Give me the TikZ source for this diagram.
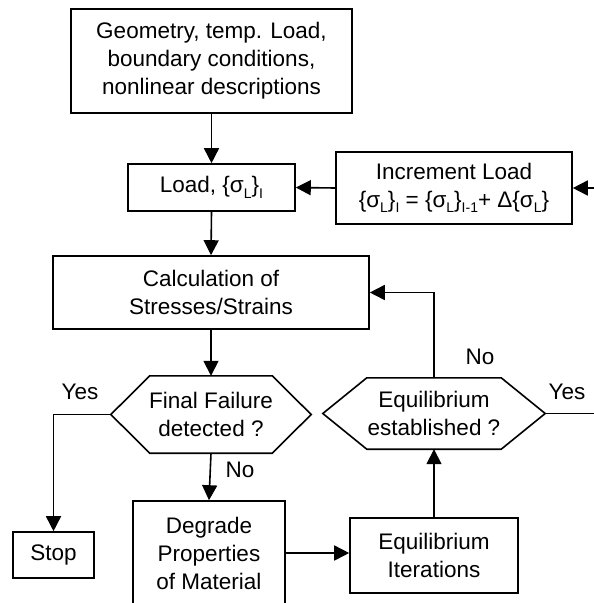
\documentclass[tikz,border=0pt]{standalone}
\usepackage{fontspec}
\setmainfont{Liberation Sans}
\usetikzlibrary{arrows.meta,calc}
\newcommand{\lsub}[1]{\raisebox{-0.45ex}{\fontsize{14}{14}\selectfont #1}}
\newcommand{\hexdraw}[2]{\draw[line width=1.6pt] (#1.west)--([xshift=#2]#1.north west)--([xshift=-#2]#1.north east)--(#1.east)--([xshift=-#2]#1.south east)--([xshift=#2]#1.south west)--cycle;}
\begin{document}
\begin{tikzpicture}[x=1pt,y=-1pt,
  every node/.style={font=\fontsize{22.5}{28}\selectfont,align=center,inner sep=0pt},
  box/.style={draw,line width=1.6pt},
  hexa/.style={},
  arr/.style={line width=1.6pt,-{Triangle[length=15pt,width=15pt]}},
  lin/.style={line width=1.6pt}]
%frame
\useasboundingbox (0,0) rectangle (594,603);
\clip (0,0) rectangle (594,603);
%boxes
\node[box,minimum width=281pt,minimum height=104pt] (geom) at (211.5,61) {Geometry, temp. Load,\\boundary conditions,\\nonlinear descriptions};
\node[box,minimum width=167pt,minimum height=47pt] (load) at (211.5,187.5) {Load, \{σ\lsub{L}\}\lsub{I}};
\node[box,minimum width=236pt,minimum height=72pt] (incr) at (454,188) {Increment Load\\\{σ\lsub{L}\}\lsub{I} = \{σ\lsub{L}\}\lsub{I-1}+ Δ\{σ\lsub{L}\}};
\node[box,minimum width=316pt,minimum height=73pt] (calc) at (211,292.5) {Calculation of\\Stresses/Strains};
\node[hexa,minimum width=200pt,minimum height=77pt] (fail) at (211,414.5) {Final Failure\\detected ?};
\node[hexa,minimum width=222pt,minimum height=71pt] (equil) at (434,413.5) {Equilibrium\\established ?};
\node[box,minimum width=81pt,minimum height=46pt] (stop) at (53.5,555) {Stop};
\node[box,minimum width=152pt,minimum height=104pt] (degr) at (209,553) {Degrade\\Properties\\of Material};
\node[box,minimum width=168pt,minimum height=75pt] (iter) at (434,555.5) {Equilibrium\\Iterations};
%hexagons
\hexdraw{fail}{39pt}
\hexdraw{equil}{44pt}
%free ends
\coordinate (rin) at (594,188);
\coordinate (rout) at (594,413.5);
%connectors
\draw[arr] (geom.south)--(load.north);
\draw[arr] (rin)--(incr.east);
\draw[arr] (incr.west)--(load.east);
\draw[arr] (load.south)--(calc.north);
\draw[arr] (calc.south)--(fail.north);
\draw[arr] (fail.west)-|(stop.north);
\draw[arr] (fail.south)--(degr.north);
\draw[arr] (degr.east)--(iter.west |- degr.east);
\draw[arr] (iter.north)--(equil.south);
\draw[arr] (equil.north)|-(calc.east);
\draw[lin] (equil.east)--(rout);
%labels
\node (yesl) at (80,392) {Yes};
\node (nol) at (240,470) {No};
\node (nor) at (480,357) {No};
\node (yesr) at (567,392) {Yes};
\end{tikzpicture}
\end{document}
